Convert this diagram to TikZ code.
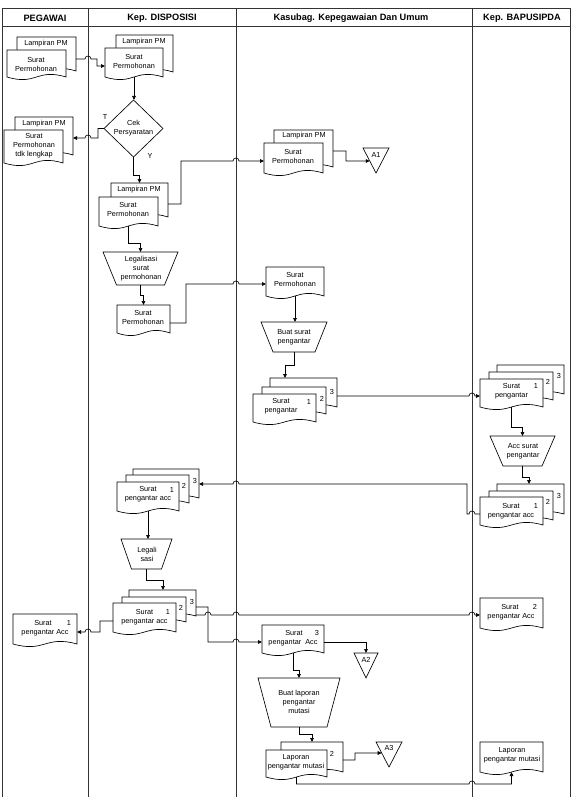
\documentclass[tikz,border=0pt]{standalone}
\usepackage{fontspec}
\setmainfont{Liberation Sans}
\usetikzlibrary{arrows.meta,calc}
\tikzset{
 geom/.style={rectangle, inner sep=0pt, outer sep=0pt, draw=none},
 shp/.style={draw=black, line width=0.65pt, fill=white, line join=miter},
 txt/.style={inner sep=0pt, align=center, font=\fontsize{7.3}{9}\selectfont},
 hdr/.style={inner sep=0pt, font=\fontsize{9.2}{11}\selectfont\bfseries},
 lane/.style={draw=black!80, line width=1pt},
 con/.style={draw=black, line width=0.65pt},
 arr/.style={con, -{Triangle[length=4pt,width=3.6pt]}},
}
% document shape: name, x1, ytop, x2, ybottom(corner)
\newcommand{\docshape}[5]{%
 \node[geom, minimum width={((#4)-(#2))*1pt}, minimum height={((#5)-(#3))*1pt}] (#1) at ({((#2)+(#4))/2},{((#3)+(#5))/2}) {};
 \filldraw[shp] (#1.south west) -- (#1.north west) -- (#1.north east) -- (#1.south east)
   .. controls ([yshift=9pt]#1.south) and ([yshift=-9pt]#1.south) .. (#1.south west) -- cycle;}
% trapezoid (manual operation): name, x1, ytop, x2, ybottom, inset
\newcommand{\trapshape}[6]{%
 \node[geom, minimum width={((#4)-(#2))*1pt}, minimum height={((#5)-(#3))*1pt}] (#1) at ({((#2)+(#4))/2},{((#3)+(#5))/2}) {};
 \filldraw[shp] (#1.north west) -- (#1.north east) -- ([xshift=-#6pt]#1.south east) -- ([xshift=#6pt]#1.south west) -- cycle;}
% off-page connector (inverted triangle): name, x1, ytop, x2, ybottom
\newcommand{\trishape}[5]{%
 \node[geom, minimum width={((#4)-(#2))*1pt}, minimum height={((#5)-(#3))*1pt}] (#1) at ({((#2)+(#4))/2},{((#3)+(#5))/2}) {};
 \filldraw[shp] (#1.north west) -- (#1.north east) -- (#1.south) -- cycle;}
\begin{document}
\begin{tikzpicture}[x=1pt,y=-1pt]
\useasboundingbox (0,0) rectangle (572,797);
% lanes
\draw[lane] (2,797) -- (2,9) -- (570,9) -- (570,797);
\draw[lane] (2,27) -- (570,27);
\draw[lane] (88,9) -- (88,797);
\draw[lane] (236,9) -- (236,797);
\draw[lane] (472,9) -- (472,797);
\node[hdr] (h1) at (45,18) {PEGAWAI};
\node[hdr] (h2) at (162,18) {Kep. DISPOSISI};
\node[hdr] (h3) at (351,18) {Kasubag. Kepegawaian Dan Umum};
\node[hdr] (h4) at (522,18) {Kep. BAPUSIPDA};

% ---------------- PEGAWAI
\docshape{p1b}{17}{37}{76}{71}
\docshape{p1}{7}{50}{66}{77}
\node[txt] (p1b-t) at (46,44) {Lampiran PM};
\node[txt] (p1-t) at (36,64.5) {Surat\\Permohonan};
\docshape{p2b}{15}{117}{73}{155}
\docshape{p2}{4}{130}{63}{163}
\node[txt] (p2b-t) at (44,124) {Lampiran PM};
\node[txt] (p2-t) at (34,146) {Surat\\Permohonan\\tdk lengkap};
\docshape{p3}{13}{614}{77}{644}
\node[txt] (p3-t1) at (43,623) {Surat};
\node[txt] (p3-n) at (69,623) {1};
\node[txt] (p3-t2) at (45,632.5) {pengantar Acc};

% ---------------- Kep. DISPOSISI
\docshape{k1b}{116}{35}{173}{72}
\docshape{k1}{105}{48}{163}{77}
\node[txt] (k1b-t) at (144,42) {Lampiran PM};
\node[txt] (k1-t) at (134,61.5) {Surat\\Permohonan};
\node[geom, minimum width=59pt, minimum height=57pt] (dia) at (133.5,128.5) {};
\filldraw[shp] (dia.north) -- (dia.east) -- (dia.south) -- (dia.west) -- cycle;
\node[txt] (dia-t) at (133.5,128.5) {Cek\\Persyaratan};
\node[txt] (lblT) at (105,117) {T};
\node[txt] (lblY) at (150,156) {Y};
\docshape{k3b}{111}{183}{168}{217}
\docshape{k3}{99}{197}{158}{226}
\node[txt] (k3b-t) at (139,190) {Lampiran PM};
\node[txt] (k3-t) at (128,209.5) {Surat\\Permohonan};
\trapshape{k4}{103}{252}{178}{285}{13.5}
\node[txt] (k4-t) at (141,269) {Legalisasi\\surat\\permohonan};
\docshape{k5}{117}{305}{170}{333}
\node[txt] (k5-t) at (143,317.5) {Surat\\Permohonan};
\docshape{k6c}{133}{469}{199}{498}
\docshape{k6b}{126}{475}{189}{503}
\docshape{k6a}{117}{482}{179}{511}
\node[txt] (k6-t) at (148,494.5) {Surat\\pengantar acc};
\node[txt] (k6-n1) at (172,490) {1};
\node[txt] (k6-n2) at (184,486) {2};
\node[txt] (k6-n3) at (195,481) {3};
\trapshape{k7}{121}{539}{172}{569}{10.5}
\node[txt] (k7-t) at (147,554.5) {Legali\\sasi};
\docshape{k8c}{129}{590}{196}{616}
\docshape{k8b}{122}{597}{186}{622}
\docshape{k8a}{113}{603}{176}{632}
\node[txt] (k8-t) at (144.5,617) {Surat\\pengantar acc};
\node[txt] (k8-n1) at (168,612) {1};
\node[txt] (k8-n2) at (181,608) {2};
\node[txt] (k8-n3) at (192,602) {3};

% ---------------- Kasubag
\docshape{s1b}{274}{130}{333}{167}
\docshape{s1}{264}{143}{323}{173}
\node[txt] (s1b-t) at (304,136) {Lampiran PM};
\node[txt] (s1-t) at (293,156.5) {Surat\\Permohonan};
\trishape{a1}{363}{148}{389}{173}
\node[txt] (a1-t) at (376,155) {A1};
\docshape{s3}{266}{267}{324}{296}
\node[txt] (s3-t) at (295,279.5) {Surat\\Permohonan};
\trapshape{s4}{261}{322}{327}{352}{12}
\node[txt] (s4-t) at (294,337.5) {Buat surat\\pengantar};
\docshape{s5c}{270}{378}{337}{407}
\docshape{s5b}{262}{387}{326}{414}
\docshape{s5a}{253}{394}{316}{422}
\node[txt] (s5-t) at (281,406.5) {Surat\\pengantar};
\node[txt] (s5-n1) at (309,402) {1};
\node[txt] (s5-n2) at (322,399) {2};
\node[txt] (s5-n3) at (332,392) {3};
\docshape{s6}{262}{625}{324}{653}
\node[txt] (s6-t1) at (294,633) {Surat};
\node[txt] (s6-n) at (317,633) {3};
\node[txt] (s6-t2) at (293,643) {pengantar\ \ Acc};
\trishape{a2}{354}{653}{378}{678}
\node[txt] (a2-t) at (366,660) {A2};
\trapshape{s7}{258}{678}{340}{727}{13}
\node[txt] (s7-t) at (299,702) {Buat laporan\\pengantar\\mutasi};
\docshape{s8b}{281}{742}{343}{772}
\docshape{s8}{266}{750}{327}{777}
\node[txt] (s8-t) at (296,762.5) {Laporan\\pengantar mutasi};
\node[txt] (s8-n) at (332,754) {2};
\trishape{a3}{376}{742}{402}{767}
\node[txt] (a3-t) at (389,748) {A3};

% ---------------- BAPUSIPDA
\docshape{b1c}{497}{365}{564}{394}
\docshape{b1b}{489}{372}{553}{400}
\docshape{b1a}{480}{379}{543}{407}
\node[txt] (b1-t) at (511.5,391) {Surat\\pengantar};
\node[txt] (b1-n1) at (536,386) {1};
\node[txt] (b1-n2) at (548,382) {2};
\node[txt] (b1-n3) at (559,376) {3};
\trapshape{b2}{490}{436}{555}{466}{13}
\node[txt] (b2-t) at (523,451.5) {Acc surat\\pengantar};
\docshape{b3c}{497}{484}{564}{514}
\docshape{b3b}{489}{491}{553}{520}
\docshape{b3a}{480}{497}{543}{525}
\node[txt] (b3-t) at (511,511) {Surat\\pengantar acc};
\node[txt] (b3-n1) at (536,506) {1};
\node[txt] (b3-n2) at (548,502) {2};
\node[txt] (b3-n3) at (559,496) {3};
\docshape{b4}{480}{598}{543}{628}
\node[txt] (b4-t1) at (510,607) {Surat};
\node[txt] (b4-n) at (535,607) {2};
\node[txt] (b4-t2) at (511,616.5) {pengantar Acc};
\docshape{b5}{480}{742}{543}{772}
\node[txt] (b5-t) at (512,755) {Laporan\\pengantar mutasi};

% ---------------- connectors
\draw[arr] ($(p1b.north east)+(0,22)$) -- (85,59) arc[start angle=180,end angle=0,radius=3pt] -- (97,59) -- (97,66) -- ($(k1.north west)+(0,18)$);
\draw[arr] (k1.south) -- (k1.south |- dia.north);
\draw[arr] (dia.west) -- (98,128.5) -- (98,138) -- (91,138) arc[start angle=0,end angle=180,radius=3pt] -- ($(p2b.north east)+(0,21)$);
\draw[arr] (dia.south) -- (133.5,175) -- (139.5,175) -- (k3b.north);
\draw[arr] ($(k3b.north east)+(0,21)$) -- (181,204) -- (181,161) -- (233,161) arc[start angle=180,end angle=0,radius=3pt] -- ($(s1.north west)+(0,18)$);
\draw[arr] (k3.south) -- (128.5,243) -- (140.5,243) -- (k4.north);
\draw[arr] (k4.south) -- (140.5,295) -- (143.5,295) -- (k5.north);
\draw[arr] ($(k5.north east)+(0,18)$) -- (186,323) -- (186,284) -- (233,284) arc[start angle=180,end angle=0,radius=3pt] -- ($(s3.north west)+(0,17)$);
\draw[arr] ($(s1b.north east)+(0,21)$) -- (346,151) -- (346,161) -- ($(a1.north west)!0.52!(a1.south)$);
\draw[arr] (s3.south) -- (s3.south |- s4.north);
\draw[arr] (s4.south) -- (294,365) -- (285,365) -- ($(s5c.north west)+(15,0)$);
\draw[arr] ($(s5c.north east)+(0,18)$) -- (469,396) arc[start angle=180,end angle=0,radius=3pt] -- ($(b1a.north west)+(0,17)$);
\draw[arr] (b1a.south) -- (511.5,427) -- (522.5,427) -- (b2.north);
\draw[arr] (b2.south) -- (522.5,477) -- (529,477) -- ($(b3c.north west)+(32,0)$);
\draw[arr] ($(b3a.north west)+(0,17)$) -- (475,514) arc[start angle=0,end angle=180,radius=3pt] -- (467,514) -- (467,484) -- (239,484) arc[start angle=0,end angle=180,radius=3pt] -- ($(k6c.north east)+(0,15)$);
\draw[arr] (k6a.south) -- (k6a.south |- k7.north);
\draw[arr] (k7.south) -- (146.5,580) -- (163,580) -- ($(k8c.north west)+(34,0)$);
\draw[arr] ($(k8a.north west)+(0,18)$) -- (100,621) -- (100,632) -- (91,632) arc[start angle=0,end angle=180,radius=3pt] -- ($(p3.north east)+(0,18)$);
\draw[arr] ($(k8c.north east)+(0,17)$) -- (208,607) -- (208,642) -- (233,642) arc[start angle=180,end angle=0,radius=3pt] -- ($(s6.north west)+(0,17)$);
\draw[arr] ($(k8c.north east)+(0,25)$) -- (205,615) arc[start angle=180,end angle=0,radius=3pt] -- (233,615) arc[start angle=180,end angle=0,radius=3pt] -- (469,615) arc[start angle=180,end angle=0,radius=3pt] -- ($(b4.north west)+(0,17)$);
\draw[arr] ($(s6.north east)+(0,17)$) -- (366,642) -- (a2.north);
\draw[arr] (s6.south) -- (293,670) -- (299,670) -- (s7.north);
\draw[arr] (s7.south) -- (299,734) -- (312,734) -- ($(s8b.north west)+(31,0)$);
\draw[arr] ($(s8b.north east)+(0,18)$) -- (355,760) -- (355,753) -- ($(a3.north west)!0.44!(a3.south)$);
\draw[arr] (s8.south) -- (296.5,784) -- (469,784) arc[start angle=180,end angle=0,radius=3pt] -- (511.5,784) -- (b5.south);
\end{tikzpicture}
\end{document}
